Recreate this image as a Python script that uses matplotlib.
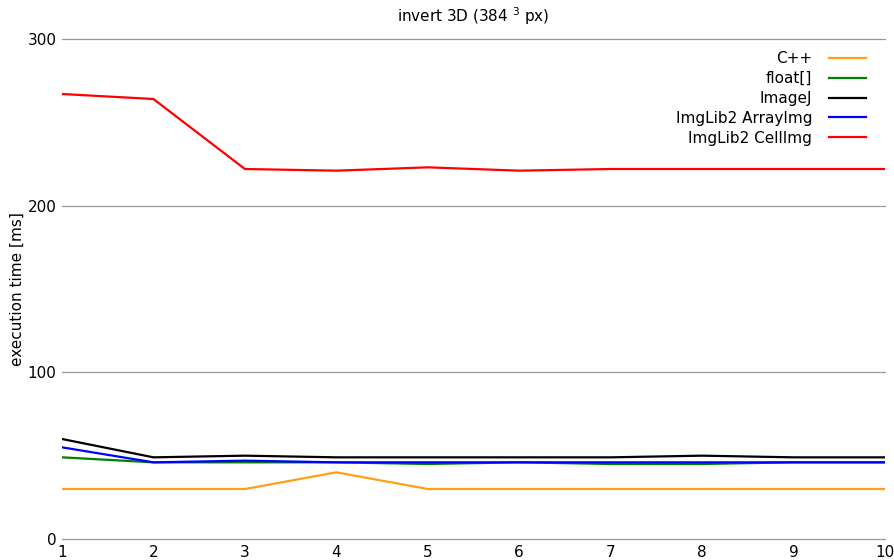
import matplotlib
matplotlib.use("Agg")
import matplotlib.pyplot as plt

runs = [1, 2, 3, 4, 5, 6, 7, 8, 9, 10]

cpp = [30, 30, 30, 40, 30, 30, 30, 30, 30, 30]
float_arr = [49, 46, 46, 46, 45, 46, 45, 45, 46, 46]
imagej = [60, 49, 50, 49, 49, 49, 49, 50, 49, 49]
array_img = [55, 46, 47, 46, 46, 46, 46, 46, 46, 46]
cell_img = [267, 264, 222, 221, 223, 221, 222, 222, 222, 222]

series_names = ["C++", "float[]", "ImageJ", "ImgLib2 ArrayImg", "ImgLib2 CellImg"]
series_colors = ["#ff9f1a", "green", "black", "blue", "red"]

fig = plt.figure(figsize=(8.94, 5.6), dpi=100)
ax = fig.add_axes([62 / 894, 21 / 560, 823 / 894, 500 / 560])

for vals, name, col in zip([cpp, float_arr, imagej, array_img, cell_img], series_names, series_colors):
    ax.plot(runs, vals, color=col, linewidth=1.6, label=name)

ax.set_xlim(1, 10)
ax.set_ylim(0, 300)
ax.set_xticks(runs)
ax.set_yticks([0, 100, 200, 300])
ax.grid(axis="y", color="#999999", linewidth=0.9)
for gl in ax.yaxis.get_gridlines():
    gl.set_clip_on(False)
ax.set_axisbelow(True)
for s in ax.spines.values():
    s.set_visible(False)
ax.tick_params(length=0, labelsize=11, pad=4)
ax.set_ylabel("execution time [ms]", fontsize=11, labelpad=2)
ax.set_title("invert 3D (384 $^3$ px)", fontsize=11, pad=12)

ax.legend(loc="upper right", frameon=False, markerfirst=False, fontsize=11,
          handlelength=2.4, handletextpad=1.1, labelspacing=0.32,
          borderaxespad=0.0, bbox_to_anchor=(0.984, 0.988))

fig.savefig("out.png", dpi=100)
